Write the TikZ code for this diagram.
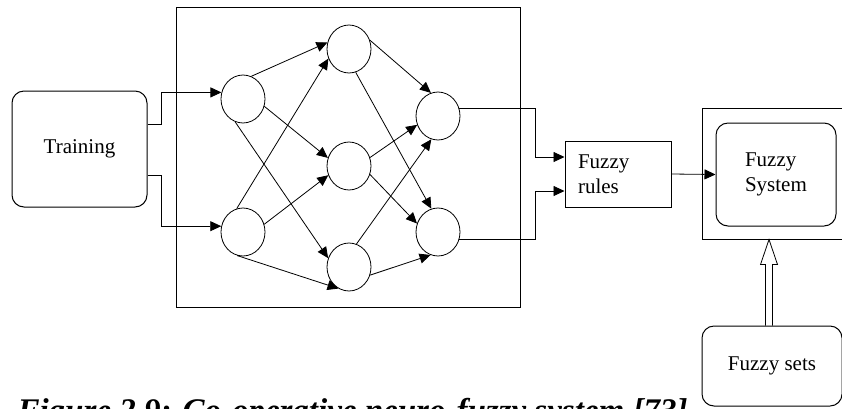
\documentclass[tikz,border=0pt]{standalone}
\usepackage{fontspec}
\setmainfont{Liberation Serif}
\usetikzlibrary{shapes.geometric,arrows.meta,calc}
\begin{document}
\begin{tikzpicture}[x=1pt,y=-1pt, line width=1pt,
  neuron/.style={ellipse, draw, line width=0.8pt, minimum width=44pt, minimum height=48pt, inner sep=0pt},
  syn/.style={line width=0.8pt, -{Triangle[length=11pt,width=10pt]}},
  lbl/.style={font=\fontsize{21}{25}\selectfont},
  rbox/.style={draw, rounded corners=12pt}]
\useasboundingbox (0,0) rectangle (842,408);
\clip (0,0) rectangle (842,408);

% training
\node[rbox, lbl, minimum width=135pt, minimum height=116pt] (train) at (79.5,149) {Training};

% network box
\node[draw, minimum width=344pt, minimum height=300pt] (nn) at (348,157) {};

\node[neuron] (I1) at (243,99) {};
\node[neuron] (I2) at (243,232) {};
\node[neuron] (H1) at (349,49) {};
\node[neuron] (H2) at (349,166) {};
\node[neuron] (H3) at (349,267) {};
\node[neuron] (O1) at (438,116) {};
\node[neuron] (O2) at (438,232) {};

\draw[syn] (I1.70) -- (H1.163);
\draw[syn] (I1.-19) -- (H2.159);
\draw[syn] (I1.-109) -- (H3.157);
\draw[syn] (I2.105) -- (H1.205);
\draw[syn] (I2.20) -- (H2.204);
\draw[syn] (I2.-104) -- (H3.-116);
\draw[syn] (H1.23) -- (O1.107);
\draw[syn] (H1.-74) -- (O2.106);
\draw[syn] (H2.22) -- (O1.203);
\draw[syn] (H2.-22) -- (O2.158);
\draw[syn] (H3.72) -- (O1.-106);
\draw[syn] (H3.-21) -- (O2.-108);

% training inputs
\draw[syn] ($(train.east)+(0,-25)$) -- ++(14,0) |- (I1.163);
\draw[syn] ($(train.east)+(0,26)$) -- ++(14,0) |- (I2.165);

% fuzzy rules
\node[draw, lbl, minimum width=106pt, minimum height=66pt, text width=80pt, inner xsep=13pt, align=left] (rules) at (618,174) {Fuzzy\\rules};
\coordinate (r1) at ($(rules.west)+(0,-17)$);
\coordinate (r2) at ($(rules.west)+(0,17)$);
\draw[syn] (O1.20) -| ($(r1)+(-29,0)$) -- (r1);
\draw[syn] (O2.-20) -| ($(r2)+(-29,0)$) -- (r2);

% fuzzy system
\node[draw, minimum width=153pt, minimum height=131pt] (fsouter) at (778.5,173.5) {};
\node[rbox, lbl, minimum width=120pt, minimum height=103pt, text width=62pt, inner xsep=29pt, align=left] (fsin) at (776,174.5) {Fuzzy\\System};
\draw[syn] (rules.east) -- (fsin.west);

% fuzzy sets
\node[rbox, lbl, minimum width=140pt, minimum height=80pt] (sets) at (772,366) {Fuzzy sets};

% hollow arrow
\coordinate (hx) at (769,0);
\coordinate (tip) at (hx |- fsouter.south);
\coordinate (base) at (hx |- sets.north);
\draw[line width=0.8pt] ($(base)+(-3.5,0)$) -- ($(tip)+(-3.5,25)$) -- ($(tip)+(-8.5,25)$) -- (tip) -- ($(tip)+(8.5,25)$) -- ($(tip)+(3.5,25)$) -- ($(base)+(3.5,0)$);

% caption
\node[anchor=base west, inner sep=0pt, font=\fontsize{33}{36}\selectfont\bfseries\itshape] (cap) at (17,421) {Figure 2.9: Co-operative neuro-fuzzy system [73]};
\end{tikzpicture}
\end{document}
